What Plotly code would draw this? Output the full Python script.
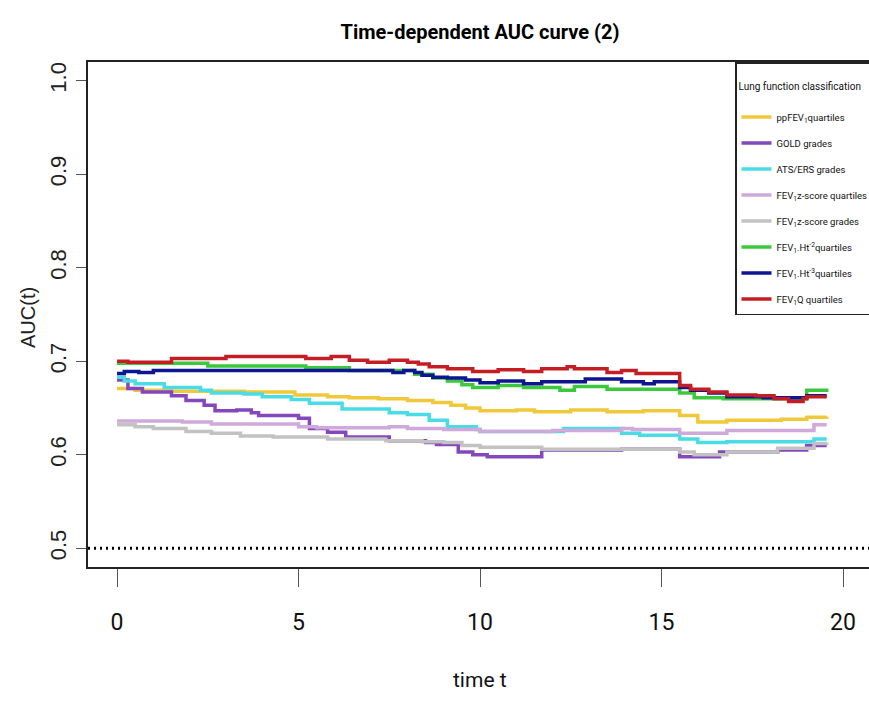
import plotly.graph_objects as go

# ---- data ----
series_names = [
    "ppFEV<sub>1</sub>quartiles",
    "GOLD grades",
    "ATS/ERS grades",
    "FEV<sub>1</sub>z-score quartiles",
    "FEV<sub>1</sub>z-score grades",
    "FEV<sub>1</sub>.Ht<sup>-2</sup>quartiles",
    "FEV<sub>1</sub>.Ht<sup>-3</sup>quartiles",
    "FEV<sub>1</sub>Q quartiles",
]

t_pp = [0.0, 0.5, 1.5, 3.5, 4.9, 5.8, 6.4, 7.2, 8.0, 8.7, 9.2, 9.6, 10.0, 11.0, 11.5, 12.5, 13.5, 14.5, 15.5, 16.0, 16.8, 18.3, 19.0, 19.55]
auc_pp = [0.671, 0.669, 0.668, 0.667, 0.664, 0.662, 0.661, 0.660, 0.658, 0.656, 0.653, 0.650, 0.647, 0.648, 0.646, 0.648, 0.646, 0.647, 0.642, 0.635, 0.637, 0.638, 0.640, 0.641]

t_gold = [0.0, 0.3, 0.7, 1.5, 1.9, 2.4, 2.7, 3.3, 3.7, 3.9, 5.0, 5.3, 5.8, 6.3, 7.5, 8.5, 8.8, 9.4, 9.8, 10.2, 11.7, 13.9, 15.5, 16.6, 18.2, 19.0, 19.55]
auc_gold = [0.680, 0.671, 0.667, 0.663, 0.658, 0.653, 0.647, 0.648, 0.645, 0.642, 0.639, 0.628, 0.624, 0.619, 0.615, 0.613, 0.611, 0.603, 0.600, 0.598, 0.605, 0.606, 0.598, 0.603, 0.605, 0.610, 0.610]

t_ats = [0.0, 0.2, 0.5, 1.3, 2.3, 2.6, 3.5, 4.0, 4.8, 5.3, 6.2, 7.5, 8.0, 8.6, 9.1, 9.9, 10.0, 12.3, 13.9, 14.4, 15.5, 16.0, 16.8, 19.2, 19.55]
auc_ats = [0.683, 0.679, 0.676, 0.672, 0.669, 0.666, 0.665, 0.662, 0.659, 0.655, 0.649, 0.645, 0.643, 0.637, 0.630, 0.627, 0.625, 0.628, 0.623, 0.621, 0.617, 0.613, 0.614, 0.617, 0.617]

t_zq = [0.0, 1.8, 2.6, 5.0, 5.5, 7.5, 8.0, 9.0, 10.0, 12.0, 13.9, 14.2, 15.5, 16.8, 19.2, 19.55]
auc_zq = [0.636, 0.635, 0.633, 0.630, 0.629, 0.630, 0.628, 0.627, 0.625, 0.626, 0.628, 0.627, 0.623, 0.626, 0.632, 0.632]

t_zg = [0.0, 0.5, 1.0, 1.9, 2.6, 3.4, 4.3, 5.8, 7.4, 8.4, 9.0, 9.5, 10.0, 11.7, 15.5, 15.9, 16.8, 18.2, 19.2, 19.55]
auc_zg = [0.632, 0.630, 0.628, 0.625, 0.623, 0.620, 0.619, 0.617, 0.615, 0.614, 0.613, 0.610, 0.608, 0.606, 0.603, 0.600, 0.603, 0.607, 0.612, 0.613]

t_h2 = [0.0, 2.5, 5.2, 6.4, 8.2, 8.7, 9.1, 9.5, 9.8, 10.0, 10.5, 11.2, 12.2, 12.6, 13.5, 13.9, 15.5, 15.9, 16.7, 19.0, 19.55]
auc_h2 = [0.698, 0.695, 0.693, 0.690, 0.686, 0.682, 0.679, 0.675, 0.672, 0.672, 0.674, 0.672, 0.669, 0.673, 0.670, 0.670, 0.666, 0.661, 0.660, 0.669, 0.671]

t_h3 = [0.0, 0.2, 0.6, 1.0, 7.6, 7.9, 8.2, 8.4, 8.7, 9.1, 9.6, 10.0, 10.5, 11.2, 11.7, 12.9, 13.9, 14.5, 14.8, 15.5, 15.8, 16.3, 16.8, 17.8, 19.0, 19.55]
auc_h3 = [0.687, 0.689, 0.688, 0.690, 0.688, 0.690, 0.688, 0.685, 0.683, 0.682, 0.680, 0.677, 0.679, 0.676, 0.678, 0.681, 0.678, 0.676, 0.678, 0.672, 0.669, 0.666, 0.662, 0.661, 0.663, 0.663]

t_q = [0.0, 0.3, 1.5, 3.0, 5.2, 5.9, 6.4, 6.9, 7.5, 8.0, 8.3, 8.6, 9.1, 9.8, 10.5, 11.2, 11.7, 12.4, 12.6, 13.5, 13.9, 14.3, 15.5, 15.8, 16.3, 16.8, 17.6, 18.1, 18.5, 18.9, 19.0, 19.55]
auc_q = [0.700, 0.699, 0.703, 0.705, 0.703, 0.705, 0.701, 0.699, 0.701, 0.699, 0.697, 0.694, 0.692, 0.689, 0.691, 0.689, 0.692, 0.694, 0.692, 0.688, 0.690, 0.687, 0.674, 0.670, 0.667, 0.664, 0.663, 0.660, 0.657, 0.660, 0.662, 0.662]

ref_auc = 0.5
x_ticks = [0, 5, 10, 15, 20]
y_ticks = [0.5, 0.6, 0.7, 0.8, 0.9, 1.0]
y_tick_text = ["0.5", "0.6", "0.7", "0.8", "0.9", "1.0"]

colors = ["#F0C93A", "#8448BC", "#48DCE6", "#CFA9DA", "#C2C2C2", "#3CC83C", "#0D1591", "#C41E24"]

times = [t_pp, t_gold, t_ats, t_zq, t_zg, t_h2, t_h3, t_q]
aucs = [auc_pp, auc_gold, auc_ats, auc_zq, auc_zg, auc_h2, auc_h3, auc_q]

NARROW = "Roboto, Liberation Sans Narrow, sans-serif"
SANS = "Liberation Sans, Arial, Helvetica, sans-serif"

W, H = 869, 709
L, R, T, B = 88, 0, 62, 142
PW, PH = W - L - R, H - T - B

fig = go.Figure()
for i, (name, t, a) in enumerate(zip(series_names, times, aucs)):
    fig.add_trace(go.Scatter(
        x=t, y=a, mode="lines", name=name,
        line=dict(color=colors[i], width=3.5, shape="hv"),
        legendgroup=f"g{i}",
    ))

fig.add_shape(type="line", xref="paper", x0=0, x1=1, yref="y", y0=ref_auc, y1=ref_auc,
              line=dict(color="black", width=3, dash="2px,4px"))

fig.update_layout(
    width=W, height=H,
    margin=dict(l=L, r=R, t=T, b=B, autoexpand=False),
    paper_bgcolor="white", plot_bgcolor="white",
    showlegend=True,
    title=dict(text="<b>Time-dependent AUC curve (2)</b>", x=480 / W, xanchor="center",
               y=1 - 32 / H, yanchor="middle",
               font=dict(family=NARROW, size=20, color="black")),
    legend=dict(
        x=(735 - L) / PW, xanchor="left", y=1, yanchor="top",
        bgcolor="white", bordercolor="#222", borderwidth=1.5,
        font=dict(family=NARROW, size=9.5, color="#111"),
        title=dict(text="<br>Lung function classification<br> ",
                   font=dict(family=NARROW, size=10, color="#111")),
        tracegroupgap=7, itemwidth=30,
    ),
    xaxis=dict(
        range=[-0.8, 20.716], tickvals=x_ticks, ticktext=[str(v) for v in x_ticks],
        showgrid=False, zeroline=False,
        showline=True, linecolor="#222", linewidth=1.5, mirror=True,
        ticks="outside", ticklen=18, tickcolor="#555", tickwidth=1,
        ticklabelstandoff=16,
        tickfont=dict(family=NARROW, size=23, color="#111"),
    ),
    yaxis=dict(
        range=[0.48, 1.02], tickvals=y_ticks, ticktext=y_tick_text,
        showgrid=False, zeroline=False,
        showline=True, linecolor="#222", linewidth=1.5,
        ticks="outside", ticklen=10, tickcolor="#555", tickwidth=1,
        tickangle=-90, ticklabelstandoff=1,
        tickfont=dict(family=SANS, size=22, color="#222"),
    ),
    annotations=[
        dict(text="AUC(t)", xref="paper", yref="paper", x=(28 - L) / PW, y=(567 - 318) / PH,
             xanchor="center", yanchor="middle", textangle=-90, showarrow=False,
             font=dict(family=SANS, size=20, color="#222")),
        dict(text="time t", xref="paper", yref="paper", x=(480 - L) / PW, y=-(680 - 567) / PH,
             xanchor="center", yanchor="middle", showarrow=False,
             font=dict(family=NARROW, size=21, color="#111")),
    ],
)

fig.write_html("out.html", config={"displayModeBar": False},
               post_script="document.body.style.margin='0';document.body.style.overflow='hidden';")
